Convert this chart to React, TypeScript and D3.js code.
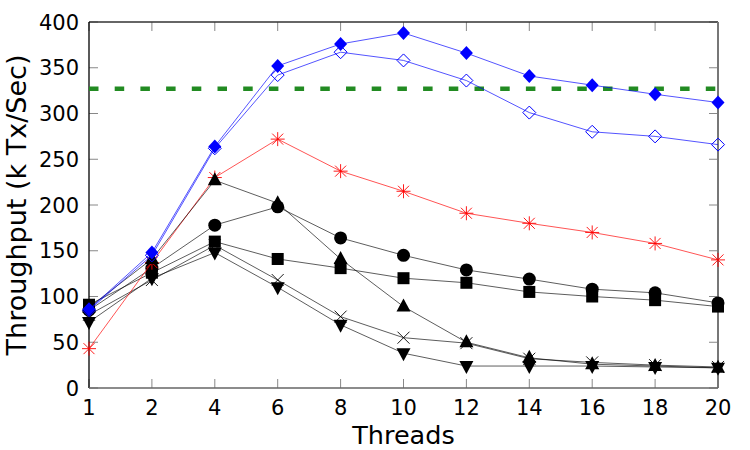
import React from "react";
import * as d3 from "d3";

const threads = ["1", "2", "4", "6", "8", "10", "12", "14", "16", "18", "20"];
const yTicks = [0, 50, 100, 150, 200, 250, 300, 350, 400];
const reference = 327;

const blueFilled = [86, 148, 264, 352, 376, 388, 366, 341, 331, 321, 312];
const blueOpen = [85, 145, 262, 342, 367, 358, 336, 301, 280, 275, 266];
const redStar = [43, 137, 230, 272, 237, 215, 191, 180, 170, 158, 140];
const triUp = [88, 141, 227, 202, 141, 89, 50, 33, 26, 24, 22];
const circles = [85, 131, 178, 198, 164, 145, 129, 119, 108, 104, 93];
const squares = [91, 126, 160, 141, 131, 120, 115, 105, 100, 96, 89];
const crosses = [80, 118, 156, 118, 78, 55, 49, 32, 28, 25, 23];
const triDown = [72, 120, 148, 110, 69, 38, 24, 24, 24, 23, 22];

type Marker = "diamond" | "diamondOpen" | "star" | "triUp" | "circle" | "square" | "cross" | "triDown";

const series: { values: number[]; color: string; marker: Marker }[] = [
  { values: crosses, color: "#000", marker: "cross" },
  { values: triDown, color: "#000", marker: "triDown" },
  { values: squares, color: "#000", marker: "square" },
  { values: circles, color: "#000", marker: "circle" },
  { values: redStar, color: "#ff0000", marker: "star" },
  { values: triUp, color: "#000", marker: "triUp" },
  { values: blueOpen, color: "#0000ff", marker: "diamondOpen" },
  { values: blueFilled, color: "#0000ff", marker: "diamond" },
];

const W = 750;
const H = 450;
const left = 89;
const right = 718;
const top = 22;
const bottom = 388;

function markerNode(m: Marker, cx: number, cy: number, color: string, key: string) {
  const s = 6.5;
  switch (m) {
    case "diamond":
      return <path key={key} d={`M${cx},${cy - s - 0.5}L${cx + s},${cy}L${cx},${cy + s + 0.5}L${cx - s},${cy}Z`} fill={color} />;
    case "diamondOpen":
      return <path key={key} d={`M${cx},${cy - s}L${cx + s},${cy}L${cx},${cy + s}L${cx - s},${cy}Z`} fill="none" stroke={color} strokeWidth={1} />;
    case "circle":
      return <circle key={key} cx={cx} cy={cy} r={6.5} fill={color} />;
    case "square":
      return <rect key={key} x={cx - 6} y={cy - 6} width={12} height={12} fill={color} />;
    case "triUp":
      return <path key={key} d={`M${cx},${cy - 8}L${cx + 7},${cy + 5}L${cx - 7},${cy + 5}Z`} fill={color} />;
    case "triDown":
      return <path key={key} d={`M${cx},${cy + 8}L${cx + 7},${cy - 5}L${cx - 7},${cy - 5}Z`} fill={color} />;
    case "cross":
      return (
        <path key={key} d={`M${cx - 6},${cy - 6}L${cx + 6},${cy + 6}M${cx - 6},${cy + 6}L${cx + 6},${cy - 6}`} stroke={color} strokeWidth={0.9} fill="none" />
      );
    case "star":
      return (
        <path
          key={key}
          d={`M${cx - 7},${cy}L${cx + 7},${cy}M${cx},${cy - 7}L${cx},${cy + 7}M${cx - 5.5},${cy - 5.5}L${cx + 5.5},${cy + 5.5}M${cx - 5.5},${cy + 5.5}L${cx + 5.5},${cy - 5.5}`}
          stroke={color}
          strokeWidth={0.9}
          fill="none"
        />
      );
  }
}

export default function App() {
  const x = d3.scalePoint<string>().domain(threads).range([left, right]);
  const y = d3.scaleLinear().domain([0, 400]).range([bottom, top]);
  const line = d3
    .line<number>()
    .x((_, i) => x(threads[i]) as number)
    .y((d) => y(d));

  const font = "DejaVu Sans, sans-serif";

  return (
    <svg width={W} height={H} style={{ position: "absolute", left: 0, top: 0, background: "#fff" }}>
      <rect x={0} y={0} width={W} height={H} fill="#fff" />
      {yTicks.map((t) => (
        <g key={"yt" + t}>
          <line x1={left} x2={left + 9} y1={y(t)} y2={y(t)} stroke="#888" strokeWidth={1} />
          <line x1={right - 9} x2={right} y1={y(t)} y2={y(t)} stroke="#888" strokeWidth={1} />
          <text x={79} y={y(t)} dy="0.36em" textAnchor="end" fontFamily={font} fontSize={21} fill="#000">
            {t}
          </text>
        </g>
      ))}
      {threads.map((t) => (
        <g key={"xt" + t}>
          <line x1={x(t)} x2={x(t)} y1={bottom} y2={bottom - 9} stroke="#888" strokeWidth={1} />
          <line x1={x(t)} x2={x(t)} y1={top} y2={top + 9} stroke="#888" strokeWidth={1} />
          <text x={x(t)} y={415} textAnchor="middle" fontFamily={font} fontSize={21} fill="#000">
            {t}
          </text>
        </g>
      ))}
      <line x1={left} x2={right} y1={top} y2={top} stroke="#333" strokeWidth={1.3} />
      <line x1={right} x2={right} y1={top} y2={bottom} stroke="#777" strokeWidth={2} />
      <line x1={left} x2={left} y1={top} y2={bottom} stroke="#000" strokeWidth={1.3} />
      <line x1={left} x2={right} y1={bottom} y2={bottom} stroke="#666" strokeWidth={1.5} />

      <line x1={left} x2={right} y1={y(reference)} y2={y(reference)} stroke="#228b22" strokeWidth={4.5} strokeDasharray="9.5 16.2" />

      {series.map((s, si) => (
        <g key={"s" + si}>
          <path d={line(s.values) as string} fill="none" stroke={s.color} strokeWidth={s.color === "#000" ? 0.8 : 0.9} strokeOpacity={s.color === "#000" ? 0.8 : 0.75} />
          {s.values.map((v, i) => markerNode(s.marker, x(threads[i]) as number, y(v), s.color, `m${si}-${i}`))}
        </g>
      ))}

      <text x={(left + right) / 2} y={444} textAnchor="middle" fontFamily={font} fontSize={25.5} fill="#000">
        Threads
      </text>
      <text transform={`translate(26,${(top + bottom) / 2}) rotate(-90)`} textAnchor="middle" fontFamily={font} fontSize={27} fill="#000">
        Throughput (k Tx/Sec)
      </text>
    </svg>
  );
}
